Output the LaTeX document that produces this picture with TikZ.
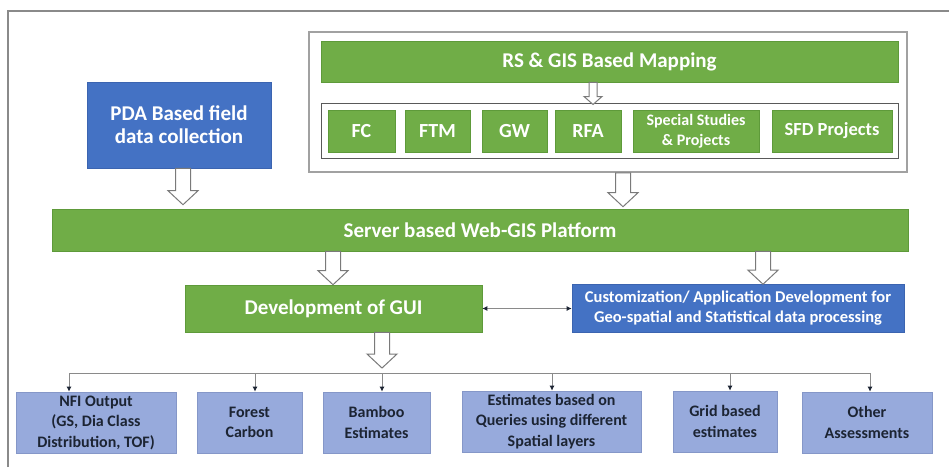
\documentclass[tikz,border=0pt]{standalone}
\usepackage{fontspec}
\setmainfont{Carlito}
\usetikzlibrary{calc,arrows.meta}
\definecolor{leaf}{HTML}{70AD47}
\definecolor{leafedge}{HTML}{5E9A3A}
\definecolor{royal}{HTML}{4472C4}
\definecolor{royaledge}{HTML}{3B64B0}
\definecolor{pale}{HTML}{97AADC}
\definecolor{paleedge}{HTML}{8597C8}
\definecolor{ink}{HTML}{1C2433}
\definecolor{rule}{HTML}{8A8A8A}
\definecolor{hollowline}{HTML}{7A7A7A}

% hollow block arrow pointing down: start, end, half shaft, half head, head length
\newcommand{\fatarrow}[5]{%
  \draw[hollow] let \p1=(#1), \p2=(#2) in
    ({\x1-#3},{\y1}) -- ({\x1-#3},{\y2+#5}) -- ({\x1-#4},{\y2+#5}) --
    ({\x1},{\y2}) -- ({\x1+#4},{\y2+#5}) -- ({\x1+#3},{\y2+#5}) --
    ({\x1+#3},{\y1}) -- cycle;}

\begin{document}
\begin{tikzpicture}[x=1pt,y=-1pt,
  greenbox/.style={draw=leafedge,line width=0.6pt,fill=leaf,text=white,font=\bfseries,align=center,inner sep=0pt},
  bluebox/.style={draw=royaledge,line width=0.6pt,fill=royal,text=white,font=\bfseries,align=center,inner sep=0pt},
  outbox/.style={draw=paleedge,line width=0.6pt,fill=pale,text=ink,align=center,inner sep=0pt,
    minimum height=61pt,font=\bfseries\fontsize{16}{20.5}\selectfont},
  bigtext/.style={font=\bfseries\fontsize{21}{23}\selectfont},
  tiletext/.style={font=\bfseries\fontsize{20}{22}\selectfont},
  hollow/.style={draw=hollowline,line width=1pt,fill=white,line join=miter},
  bus/.style={draw=rule,line width=1pt},
  droptip/.style={draw=rule,line width=1pt,-{Latex[length=5pt,width=5pt,color=ink]}},
  link/.style={draw=rule,line width=1.2pt,{Latex[length=5pt,width=5pt,color=ink]}-{Latex[length=5pt,width=5pt,color=ink]}}
]
\useasboundingbox (0,0) rectangle (949,467);
\fill[white] (0,0) rectangle (949,467);

% outer frame
\draw[rule,line width=1.5pt] (8,467) -- (8,11) -- (949,11);

% mapping group
\node[draw=rule!80,line width=1.5pt,fill=white,minimum width=598pt,minimum height=140pt,inner sep=0pt]
  (group) at (608,102) {};
\node[greenbox,bigtext,minimum width=577pt,minimum height=41pt]
  (rs) at (609.5,61.5) {RS \& GIS Based Mapping};
\node[draw=black!65,line width=1pt,minimum width=577pt,minimum height=55pt,inner sep=0pt]
  (tray) at (609.5,130.5) {};
\begin{scope}[every node/.append style={greenbox,minimum height=42pt}]
  \node[tiletext,minimum width=67pt] (fc) at (361.5,131) {FC};
  \node[tiletext,minimum width=65pt] (ftm) at (437.5,131) {FTM};
  \node[tiletext,minimum width=65pt] (gw) at (514.5,131) {GW};
  \node[tiletext,minimum width=66pt] (rfa) at (588,131) {RFA};
  \node[minimum width=126pt,font=\bfseries\fontsize{16}{19.5}\selectfont] (ssp) at (696,131) {Special Studies\\\& Projects};
  \node[minimum width=120pt,font=\bfseries\fontsize{18.5}{21}\selectfont] (sfd) at (832,131) {SFD Projects};
\end{scope}

% field data
\node[bluebox,minimum width=184pt,minimum height=86pt,font=\bfseries\fontsize{21}{23}\selectfont]
  (pda) at (179,125) {PDA Based field\\data collection};

% platform
\node[greenbox,bigtext,minimum width=856pt,minimum height=42pt]
  (web) at (480,230) {Server based Web-GIS Platform};

% second level
\node[greenbox,bigtext,minimum width=297pt,minimum height=47pt]
  (gui) at (333.5,308.5) {Development of GUI};
\node[bluebox,minimum width=332pt,minimum height=48pt,font=\bfseries\fontsize{16.5}{20}\selectfont]
  (cust) at (738,308.5) {Customization/ Application Development for\\Geo-spatial and Statistical data processing};

% outputs
\node[outbox,minimum width=160pt] (nfi) at (96,422.5) {NFI Output\\(GS, Dia Class\\Distribution, TOF)};
\node[outbox,minimum width=105pt] (carbon) at (249.5,422.5) {Forest\\Carbon};
\node[outbox,minimum width=107pt] (bamboo) at (376.5,422.5) {Bamboo\\Estimates};
\node[outbox,minimum width=179pt] (query) at (551.5,421.5) {Estimates based on\\Queries using different\\Spatial layers};
\node[outbox,minimum width=104pt] (grid) at (725,421.5) {Grid based\\estimates};
\node[outbox,minimum width=130pt] (other) at (867,422.5) {Other\\Assessments};

% block arrows
\coordinate (a1) at ($(pda.south)+(4,0)$);
\coordinate (a1e) at ($(web.north)+(0,-4)$);
\fatarrow{a1}{a1e}{7.5pt}{15pt}{14pt}

\coordinate (a2) at (593,0 |- rs.south);
\coordinate (a2e) at ($(tray.north)+(0,2)$);
\fatarrow{a2}{a2e}{4pt}{9pt}{8pt}

\coordinate (a3) at (623,0 |- group.south);
\coordinate (a3e) at ($(web.north)+(0,-2)$);
\fatarrow{a3}{a3e}{7.5pt}{15pt}{14pt}

\coordinate (a4) at (333,0 |- web.south);
\coordinate (a4e) at (gui.north);
\fatarrow{a4}{a4e}{7.5pt}{15pt}{14pt}

\coordinate (a5) at (763,0 |- web.south);
\coordinate (a5e) at (cust.north);
\fatarrow{a5}{a5e}{7.5pt}{15pt}{14pt}

\coordinate (a6) at (382,0 |- gui.south);
\coordinate (a6e) at (382,368);
\fatarrow{a6}{a6e}{7.5pt}{15pt}{14pt}

% two-way link
\draw[link] (gui.east) -- (cust.west);

% distribution bus
\coordinate (d1) at (69,373);
\coordinate (d2) at (255,373);
\coordinate (d3) at (382,373);
\coordinate (d4) at (552,373);
\coordinate (d5) at (730,373);
\coordinate (d6) at (870,373);
\draw[bus] (d1) -- (d6);
\draw[droptip] (d1) -- (d1 |- nfi.north);
\draw[droptip] (d2) -- (d2 |- carbon.north);
\draw[droptip] (d3) -- (d3 |- bamboo.north);
\draw[droptip] (d4) -- (d4 |- query.north);
\draw[droptip] (d5) -- (d5 |- grid.north);
\draw[droptip] (d6) -- (d6 |- other.north);
\end{tikzpicture}
\end{document}
